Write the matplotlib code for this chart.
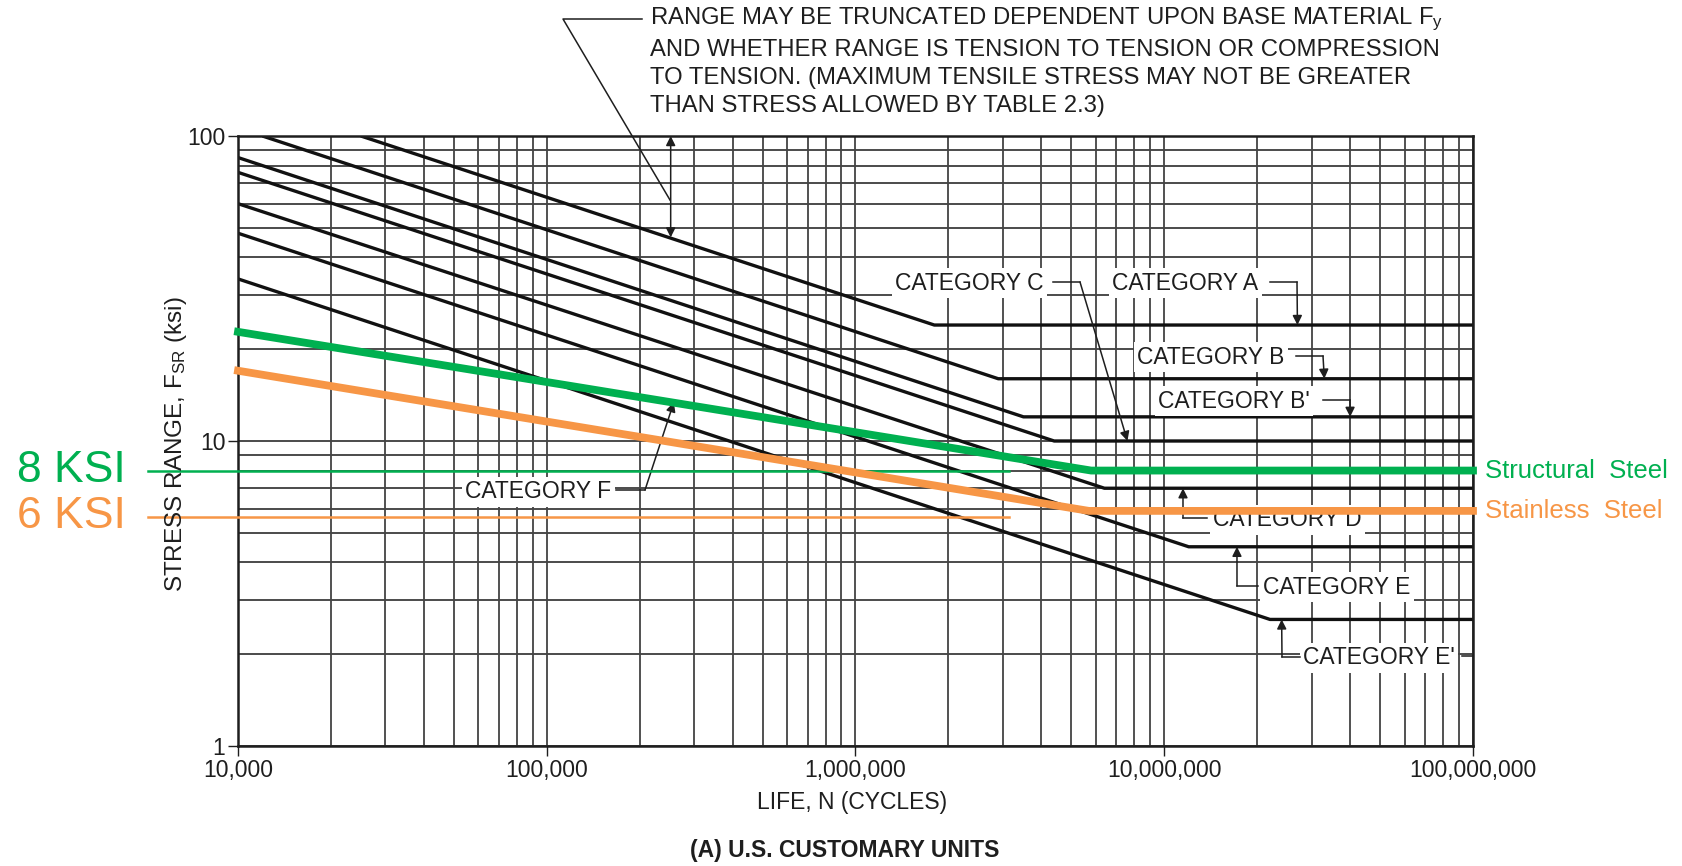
import matplotlib
matplotlib.use("Agg")
import matplotlib.pyplot as plt
from matplotlib.ticker import LogLocator, NullFormatter, FixedLocator, FixedFormatter
from matplotlib.lines import Line2D
from matplotlib.transforms import blended_transform_factory, IdentityTransform

# ---------------- data ----------------
cat_names = ["A", "B", "B'", "C", "D", "E", "E'", "F"]
cat_start_n = [2.5e4, 1.2e4, 1e4, 1e4, 1e4, 1e4, 1e4, 1e4]
cat_start_s = [100, 100, 85, 76, 60, 48, 34, 23]
cat_knee_n = [1.8e6, 2.9e6, 3.5e6, 4.4e6, 6.4e6, 1.2e7, 2.2e7, 5.7e6]
cat_knee_s = [24, 16, 12, 10, 7, 4.5, 2.6, 8]
cycle_end = 1e8

structural_n = [1e4, 5.8e6, 1e8]
structural_s = [22.8, 8, 8]
stainless_n = [1e4, 5.7e6, 1e8]
stainless_s = [17, 5.9, 5.9]

ref_levels = [8, 5.65]          # thin marker lines as drawn in the picture
ref_labels = ["8 KSI", "6 KSI"]
series_labels = ["Structural  Steel", "Stainless  Steel"]

x_ticks = [1e4, 1e5, 1e6, 1e7, 1e8]
x_ticklabels = ["10,000", "100,000", "1,000,000", "10,000,000", "100,000,000"]
y_ticks = [1, 10, 100]
y_ticklabels = ["1", "10", "100"]

GREEN = "#00B050"
ORANGE = "#F79646"
INK = "#1e1e1e"

plt.rcParams["font.family"] = ["Liberation Sans", "DejaVu Sans"]
plt.rcParams["mathtext.default"] = "regular"

W, H = 1683, 866
fig = plt.figure(figsize=(W / 100, H / 100), dpi=100)
ax = fig.add_axes([238 / W, 1 - 746 / H, 1235 / W, 610 / H])
ax.set_xscale("log")
ax.set_yscale("log")
ax.set_xlim(1e4, 1e8)
ax.set_ylim(1, 100)
ax.autoscale(False)

# grid like chart paper
ax.xaxis.set_major_locator(FixedLocator(x_ticks))
ax.xaxis.set_major_formatter(FixedFormatter(x_ticklabels))
ax.yaxis.set_major_locator(FixedLocator(y_ticks))
ax.yaxis.set_major_formatter(FixedFormatter(y_ticklabels))
ax.xaxis.set_minor_locator(LogLocator(base=10, subs=range(2, 10)))
ax.yaxis.set_minor_locator(LogLocator(base=10, subs=range(2, 10)))
ax.xaxis.set_minor_formatter(NullFormatter())
ax.yaxis.set_minor_formatter(NullFormatter())
ax.set_axisbelow(True)
ax.xaxis.grid(True, which="both", color="#2a2a2a", lw=1.15)
ax.yaxis.grid(True, which="both", color="#444444", lw=1.35)
ax.tick_params(which="minor", length=0)
ax.tick_params(which="major", direction="out", length=7, width=1.0, color=INK,
               labelsize=16.5, labelcolor=INK, pad=2)
for sp in ax.spines.values():
    sp.set_linewidth(1.8)
    sp.set_color(INK)

# category curves
for i in range(len(cat_names)):
    ax.plot([cat_start_n[i], cat_knee_n[i], cycle_end],
            [cat_start_s[i], cat_knee_s[i], cat_knee_s[i]],
            color="#111111", lw=2.4, zorder=2, solid_capstyle="butt")

# highlighted material curves
ax.plot(structural_n, structural_s, color=GREEN, lw=5.6, zorder=5,
        solid_joinstyle="miter", clip_on=False)
ax.plot(stainless_n, stainless_s, color=ORANGE, lw=5.6, zorder=5,
        solid_joinstyle="miter", clip_on=False)

# thin reference levels and their big labels
px_y_data = blended_transform_factory(IdentityTransform(), ax.transData)
fig_y_data = blended_transform_factory(fig.transFigure, ax.transData)
for lvl, lab, col in zip(ref_levels, ref_labels, [GREEN, ORANGE]):
    ax.add_line(Line2D([148, 1009], [lvl, lvl], transform=px_y_data, color=col,
                       lw=1.8, zorder=4.5, clip_on=False))
    ax.text(17 / W, lvl, lab, transform=fig_y_data, color=col, fontsize=32,
            ha="left", va="center", clip_on=False)

ax_y = ax.get_yaxis_transform()
for lvl, lab, col in zip([structural_s[-1], stainless_s[-1]], series_labels, [GREEN, ORANGE]):
    ax.text(1 + 12 / 1235, lvl, lab, transform=ax_y, color=col, fontsize=18.5,
            ha="left", va="center", clip_on=False)

# ---------------- annotations ----------------
def fp(x, y):
    return (x, H - y)

def seg(points, lw=1.1):
    xs = [p[0] for p in points]
    ys = [H - p[1] for p in points]
    ax.add_line(Line2D(xs, ys, transform=IdentityTransform(), color=INK, lw=lw,
                       zorder=3.5, clip_on=False))

def arrow(start_px, tip_data, style="-|>"):
    ax.annotate("", xy=tip_data, xycoords="data", xytext=fp(*start_px),
                textcoords="figure pixels",
                arrowprops=dict(arrowstyle=style, color=INK, lw=1.1,
                                shrinkA=0, shrinkB=0, mutation_scale=14),
                zorder=3.5, annotation_clip=False)

def label(x, y, txt):
    ax.annotate(txt, xy=fp(x, y), xycoords="figure pixels", ha="left", va="center",
                fontsize=16.5, color=INK, zorder=3,
                bbox=dict(boxstyle="square,pad=0.15", fc="white", ec="none"),
                annotation_clip=False)

# category labels with their leaders
label(895, 283, "CATEGORY C")
seg([(1053, 282), (1080, 282)])
arrow((1080, 282), (7.6e6, 10))

label(1112, 283, "CATEGORY A")
seg([(1270, 282), (1297, 282)])
arrow((1297, 282), (2.7e7, 24))

label(1137, 357, "CATEGORY B")
seg([(1296, 356), (1323, 356)])
arrow((1323, 356), (3.3e7, 16))

label(1158, 401, "CATEGORY B'")
seg([(1323, 400), (1350, 400)])
arrow((1350, 400), (4.0e7, 12))

label(1213, 520, "CATEGORY D")
seg([(1207, 518), (1183, 518)])
arrow((1183, 518), (1.15e7, 7))

label(1263, 587, "CATEGORY E")
seg([(1258, 586), (1237, 586)])
arrow((1237, 586), (1.72e7, 4.5))

label(1303, 658, "CATEGORY E'")
seg([(1300, 657), (1282, 657)])
seg([(1462, 656), (1473, 656)])
arrow((1282, 657), (2.4e7, 2.6))

label(465, 492, "CATEGORY F")
seg([(616, 490), (645, 490)])
arrow((645, 490), (2.58e5, 13.4))

# top note and its leader
fig.text(650 / W, 1 - 6 / H,
         "RANGE MAY BE TRUNCATED DEPENDENT UPON BASE MATERIAL F$_\\mathregular{y}$\n"
         "AND WHETHER RANGE IS TENSION TO TENSION OR COMPRESSION\n"
         "TO TENSION. (MAXIMUM TENSILE STRESS MAY NOT BE GREATER\n"
         "THAN STRESS ALLOWED BY TABLE 2.3)",
         ha="left", va="top", fontsize=17.2, color=INK, linespacing=1.34)
seg([(642, 19), (563, 19), (670, 200)])
ax.annotate("", xy=(2.52e5, 46.5), xycoords="data", xytext=(2.52e5, 100),
            textcoords="data",
            arrowprops=dict(arrowstyle="<|-|>", color=INK, lw=1.1,
                            shrinkA=0, shrinkB=0, mutation_scale=14),
            zorder=3.5, annotation_clip=False)

# axis titles
fig.text(176 / W, 1 - 444 / H, "STRESS RANGE, F$_\\mathregular{SR}$ (ksi)",
         rotation=90, ha="center", va="center", fontsize=17.5, color=INK)
fig.text(852 / W, 1 - 803 / H, "LIFE, N (CYCLES)", ha="center", va="center",
         fontsize=16.5, color=INK)
fig.text(845 / W, 1 - 851 / H, "(A) U.S. CUSTOMARY UNITS", ha="center", va="center",
         fontsize=16.5, fontweight="bold", color=INK)

fig.savefig("out.png", dpi=100, facecolor="white")
